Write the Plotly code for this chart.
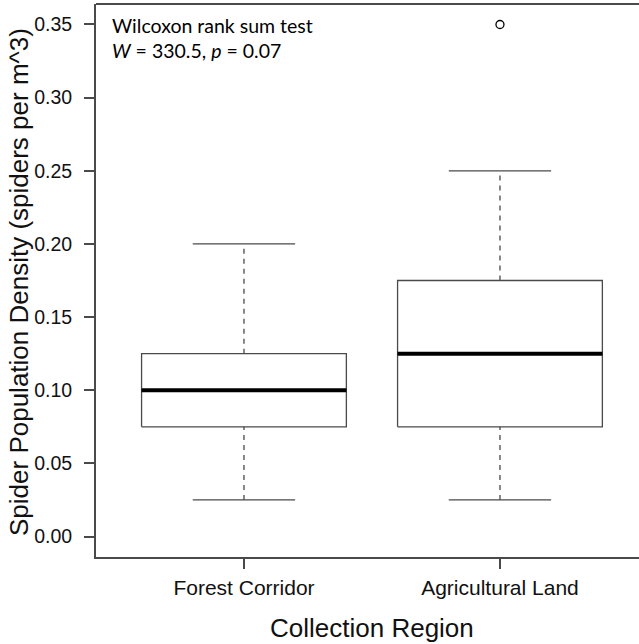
import plotly.graph_objects as go

categories = ["Forest Corridor", "Agricultural Land"]
lower_whisker = [0.025, 0.025]
q1 = [0.075, 0.075]
median = [0.10, 0.125]
q3 = [0.125, 0.175]
upper_whisker = [0.20, 0.25]
outliers = [[], [0.35]]
y_ticks = [0.00, 0.05, 0.10, 0.15, 0.20, 0.25, 0.30, 0.35]

W, H = 639, 644
ML, MR, MT, MB = 96, 0, 4, 87
LINE = "#4a4a4a"
FONT = "Liberation Sans, Arial, sans-serif"

fig = go.Figure()
half_box = 0.4
half_cap = 0.2
for i, cat in enumerate(categories):
    x = i + 1
    # box
    fig.add_trace(go.Scatter(
        x=[x - half_box, x + half_box, x + half_box, x - half_box, x - half_box],
        y=[q1[i], q1[i], q3[i], q3[i], q1[i]],
        mode="lines", line=dict(color=LINE, width=1.3), hoverinfo="skip", showlegend=False))
    # median
    fig.add_trace(go.Scatter(
        x=[x - half_box, x + half_box], y=[median[i], median[i]],
        mode="lines", line=dict(color="black", width=4), hoverinfo="skip", showlegend=False))
    # whiskers (dashed)
    for a, b in [(lower_whisker[i], q1[i]), (q3[i], upper_whisker[i])]:
        fig.add_trace(go.Scatter(
            x=[x, x], y=[a, b], mode="lines",
            line=dict(color=LINE, width=1.3, dash="5px,5px"), hoverinfo="skip", showlegend=False))
    # caps
    for v in [lower_whisker[i], upper_whisker[i]]:
        fig.add_trace(go.Scatter(
            x=[x - half_cap, x + half_cap], y=[v, v], mode="lines",
            line=dict(color=LINE, width=1.3), hoverinfo="skip", showlegend=False))
    # outliers
    if outliers[i]:
        fig.add_trace(go.Scatter(
            x=[x] * len(outliers[i]), y=outliers[i], mode="markers",
            marker=dict(symbol="circle-open", size=8, color="black", line=dict(width=1.3)),
            hoverinfo="skip", showlegend=False))

plot_w = W - ML - MR
plot_h = H - MT - MB
px_per_unit = 256.0
x0 = 0.422
x1 = x0 + plot_w / px_per_unit

fig.update_layout(
    width=W, height=H,
    margin=dict(l=ML, r=MR, t=MT, b=MB, autoexpand=False),
    paper_bgcolor="white", plot_bgcolor="white",
    showlegend=False,
    xaxis=dict(
        range=[x0, x1], tickmode="array", tickvals=[1, 2], ticktext=categories,
        showgrid=False, zeroline=False, showline=True, linecolor=LINE, linewidth=2,
        ticks="outside", ticklen=10, tickwidth=1.5, tickcolor=LINE,
        tickfont=dict(family=FONT, size=21, color="#111"), ticklabelstandoff=1,
    ),
    yaxis=dict(
        range=[-0.014, 0.364], tickmode="array", tickvals=y_ticks,
        ticktext=[f"{v:.2f}" for v in y_ticks],
        showgrid=False, zeroline=False, showline=True, linecolor=LINE, linewidth=2,
        ticks="outside", ticklen=10, tickwidth=1.5, tickcolor=LINE,
        tickfont=dict(family=FONT, size=19.5, color="#111"), ticklabelstandoff=8,
    ),
    shapes=[dict(type="line", xref="paper", yref="paper", x0=0, x1=1, y0=1, y1=1,
                 line=dict(color=LINE, width=2))],
    annotations=[
        dict(text="Spider Population Density (spiders per m^3)", textangle=-90,
             xref="paper", yref="paper", x=(19 - ML) / plot_w, y=(557 - 282) / plot_h,
             xanchor="center", yanchor="middle", showarrow=False,
             font=dict(family=FONT, size=26, color="#111")),
        dict(text="Collection Region", xref="paper", yref="paper",
             x=(372 - ML) / plot_w, y=(557 - 628) / plot_h,
             xanchor="center", yanchor="middle", showarrow=False,
             font=dict(family=FONT, size=26, color="#111")),
        dict(text="Wilcoxon rank sum test<br><i>W</i> = 330.5, <i>p</i> = 0.07",
             xref="paper", yref="paper", x=(110 - ML) / plot_w, y=1 - (12 - MT) / plot_h,
             xanchor="left", yanchor="top", align="left", showarrow=False,
             font=dict(family="Lato, sans-serif", size=19.5, color="black")),
    ],
)

fig.write_html("out.html", config={"displayModeBar": False},
               post_script="document.body.style.margin='0px';")
